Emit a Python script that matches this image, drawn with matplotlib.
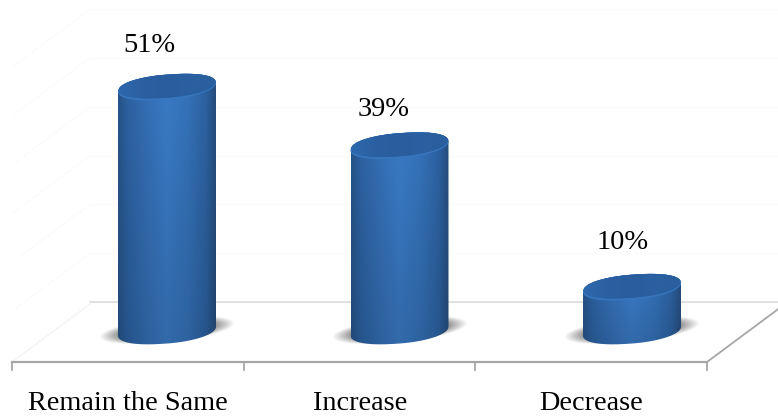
import numpy as np
from matplotlib import pyplot as plt
from matplotlib.colors import LinearSegmentedColormap
from matplotlib.path import Path
from matplotlib.patches import PathPatch

plt.rcParams['font.family'] = ['Liberation Serif', 'DejaVu Serif']

categories = ['Remain the Same', 'Increase', 'Decrease']
values = [51, 39, 10]
value_labels = ['51%', '39%', '10%']
grid_values = [10, 20, 30, 40, 50, 60]

# pixel layout of the 3d box
W, H = 778, 419
X_STEP = 232.5      # px per category
Y_STEP = 4.88       # px per percent
X0, Y0 = 167, 337   # px of category 0, value 0

fig = plt.figure(figsize=(W / 100, H / 100), dpi=100)
ax = fig.add_axes([0, 0, 1, 1])
ax.axis('off')


def dx(px):
    return px / X_STEP


def dy(px):
    return px / Y_STEP


FLOOR = dy(337 - 362)       # front edge of floor
BACK = dy(337 - 302)        # value 0 on the back wall
LEFT, RIGHT = dx(12 - 167), dx(707 - 167)
DEPTH_X, DEPTH_Y = dx(78), dy(58)

# back wall grid, very faint
for g in grid_values:
    ax.plot([-0.333, 3], [BACK + g, BACK + g], color='#fbfbfb', lw=0.9, zorder=1)
    ax.plot([LEFT, LEFT + DEPTH_X], [BACK + g - DEPTH_Y, BACK + g], color='#f8f8f8',
            lw=0.9, ls=(0, (1, 1)), zorder=1)

# floor
ax.plot([-0.333, 3], [BACK, BACK], color='#dcdcdc', lw=1.2, zorder=1)
ax.plot([LEFT, LEFT + DEPTH_X], [FLOOR, FLOOR + DEPTH_Y], color='#f4f4f4', lw=1, zorder=1)
ax.plot([RIGHT, RIGHT + DEPTH_X], [FLOOR, FLOOR + DEPTH_Y], color='#a6a6a6', lw=1.3, zorder=1)
ax.plot([LEFT, RIGHT], [FLOOR, FLOOR], color='#a6a6a6', lw=1.6, zorder=2)
for x in np.linspace(LEFT, RIGHT, 4):
    ax.plot([x, x], [FLOOR, FLOOR - dy(8)], color='#a6a6a6', lw=1.3, zorder=2)

body_cmap = LinearSegmentedColormap.from_list(
    'body', [(0, '#265488'), (0.1, '#2d62a2'), (0.3, '#3470b6'), (0.5, '#3a7bc6'),
             (0.72, '#3472b8'), (0.9, '#2d62a2'), (1, '#264e7e')])
top_cmap = LinearSegmentedColormap.from_list(
    'top', ['#2e68ad', '#2a60a2', '#295d9d', '#2a60a1', '#2b5f9e'])

HALF_W = dx(49)
RY = dy(12.5)
TILT = dy(4.5)
BASE = dy(337 - 331)
CAP_UP = dy(1)


def round_cos(t):
    return np.sign(np.cos(t)) * np.abs(np.cos(t)) ** 0.92


def round_sin(t):
    return np.sign(np.sin(t)) * np.abs(np.sin(t)) ** 0.92


def ellipse_xy(cx, cy, n=120):
    t = np.linspace(0, 2 * np.pi, n)
    return cx + HALF_W * round_cos(t), cy + RY * round_sin(t) + TILT * np.cos(t)


for i, v in enumerate(values):
    # soft shadow on the floor, tilted like the cylinder base
    sx = np.linspace(i - dx(75), i + dx(75), 160)
    sy = np.linspace(BASE - dy(24), BASE + dy(24), 70)
    xx, yy = np.meshgrid(sx, sy)
    sheared = yy - BASE - dy(1) - (xx - i) * (dy(5) / dx(49))
    rr = np.sqrt(((xx - i) / dx(65)) ** 2 + (sheared / dy(12)) ** 2)
    alpha = np.clip((1.05 - rr) / 0.35, 0, 1) * 0.7
    shadow = np.zeros(xx.shape + (4,))
    shadow[..., :3] = 0.3
    shadow[..., 3] = alpha
    ax.imshow(shadow, extent=[sx[0], sx[-1], sy[0], sy[-1]], origin='lower',
              aspect='auto', zorder=3, interpolation='bilinear')

    # cylinder body: horizontal gradient, a bit darker towards the bottom
    t = np.linspace(0, 2 * np.pi, 120)
    lower = t[(t >= np.pi) & (t <= 2 * np.pi)]
    upper = t[t <= np.pi]
    top = v + CAP_UP
    bx = i + HALF_W * round_cos(lower)
    by = BASE + RY * round_sin(lower) + TILT * np.cos(lower)
    ux = i + HALF_W * round_cos(upper)
    uy = top + RY * round_sin(upper) + TILT * np.cos(upper)
    verts = np.column_stack([np.r_[bx, ux], np.r_[by, uy]])
    verts = np.vstack([verts, verts[0]])
    clip = PathPatch(Path(verts), transform=ax.transData, fc='none', ec='none')
    ax.add_patch(clip)

    u = np.linspace(0, 1, 128)
    rows = np.linspace(0, 1, 64)
    img = body_cmap(u)[None, :, :3] * (0.86 + 0.14 * rows)[:, None, None]
    im = ax.imshow(img, extent=[i - HALF_W, i + HALF_W, BASE - RY - TILT, top + RY + TILT],
                   origin='lower', aspect='auto', zorder=4, interpolation='bilinear')
    im.set_clip_path(clip)

    # cap, lighter rim on the lower edge
    ex, ey = ellipse_xy(i, top)
    ax.fill(ex, ey, color='#3775bc', lw=0, zorder=5)
    ex2 = i + (ex - i) * 0.985
    ey2 = top + (ey - top) * 0.92 + dy(1)
    cap = ax.fill(ex2, ey2, color='#2a60a2', lw=0, zorder=6)[0]
    im2 = ax.imshow(top_cmap(u)[None, :, :3],
                    extent=[i - HALF_W, i + HALF_W, top - RY - TILT, top + RY + TILT],
                    origin='lower', aspect='auto', zorder=6, interpolation='bilinear')
    im2.set_clip_path(cap)

# labels
label_dx = [-18, -16, -9]
label_dy = [43, 37, 46]
for i, v in enumerate(values):
    ax.text(i + dx(label_dx[i]), v + dy(label_dy[i]), value_labels[i], fontsize=20.5,
            color='black', ha='center', va='center', zorder=8)

label_x = [-39, -39, -41]
for i, c in enumerate(categories):
    ax.text(i + dx(label_x[i]), dy(337 - 403), c, fontsize=20.3,
            color='black', ha='center', va='center', zorder=8)

ax.set_xlim(-X0 / X_STEP, (W - X0) / X_STEP)
ax.set_ylim(-(H - Y0) / Y_STEP, Y0 / Y_STEP)

fig.savefig('out.png', dpi=100)
